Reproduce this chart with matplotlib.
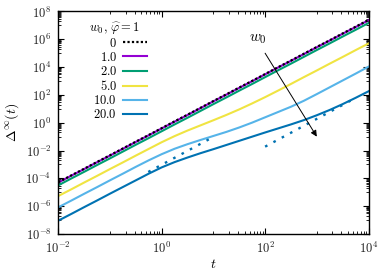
import numpy as np
import matplotlib
matplotlib.use("Agg")
import matplotlib.pyplot as plt
from matplotlib.ticker import FixedLocator, FuncFormatter, NullFormatter

plt.rcParams['mathtext.fontset'] = 'cm'
plt.rcParams['font.family'] = ['DejaVu Serif']

# ---- data (log10 values) ----
log_t = [-2, -1.75, -1.5, -1.25, -1, -0.75, -0.5, -0.25, 0, 0.25, 0.5, 0.75, 1,
         1.25, 1.5, 1.75, 2, 2.25, 2.5, 2.75, 3, 3.25, 3.5, 3.75, 4]
labels = ["0", "1.0", "2.0", "5.0", "10.0", "20.0"]
logD_w0 = [-4.28, -3.79, -3.31, -2.82, -2.34, -1.85, -1.36, -0.88, -0.39, 0.10, 0.58,
           1.07, 1.56, 2.04, 2.53, 3.01, 3.50, 3.99, 4.47, 4.96, 5.45, 5.93, 6.42,
           6.90, 7.39]
logD_w1 = [-4.30, -3.81, -3.33, -2.84, -2.36, -1.87, -1.38, -0.90, -0.41, 0.08, 0.56,
           1.05, 1.54, 2.02, 2.51, 2.99, 3.48, 3.97, 4.45, 4.94, 5.43, 5.91, 6.40,
           6.88, 7.37]
logD_w2 = [-4.50, -4.01, -3.53, -3.04, -2.56, -2.07, -1.58, -1.10, -0.61, -0.12, 0.36,
           0.85, 1.34, 1.82, 2.31, 2.79, 3.28, 3.77, 4.25, 4.74, 5.23, 5.71, 6.20,
           6.68, 7.17]
logD_w5 = [-5.27, -4.79, -4.30, -3.82, -3.33, -2.85, -2.36, -1.88, -1.40, -0.96, -0.56,
           -0.19, 0.18, 0.56, 0.96, 1.39, 1.84, 2.31, 2.79, 3.28, 3.76, 4.25, 4.73,
           5.22, 5.70]
logD_w10 = [-6.08, -5.60, -5.11, -4.63, -4.14, -3.66, -3.17, -2.70, -2.26, -1.87, -1.54,
            -1.24, -0.95, -0.66, -0.34, 0.01, 0.39, 0.77, 1.15, 1.58, 2.06, 2.55, 3.04,
            3.53, 4.03]
logD_w20 = [-7.04, -6.56, -6.07, -5.59, -5.10, -4.62, -4.14, -3.66, -3.21, -2.83, -2.50,
            -2.19, -1.90, -1.60, -1.30, -1.00, -0.70, -0.41, -0.12, 0.19, 0.54, 0.92,
            1.34, 1.79, 2.26]
# dotted asymptotes for w0 = 20
asym1_t = [0.55, 9.0]
asym1_logD = [-3.54, -1.11]
asym2_t = [100.0, 5000.0]
asym2_logD = [-1.72, 1.68]

colors = ["black", "#9400D3", "#009E73", "#F0E442", "#56B4E9", "#0072B2"]

t = 10.0 ** np.array(log_t)

fig = plt.figure(figsize=(3.9, 2.73), dpi=100)
ax = fig.add_axes([0.1495, 0.1429, 0.7954, 0.815])

series = [logD_w0, logD_w1, logD_w2, logD_w5, logD_w10, logD_w20]
handles = []
for i in range(1, 6):
    h, = ax.plot(t, 10.0 ** np.array(series[i]), color=colors[i], lw=1.5,
                 label="$" + labels[i] + "$", zorder=2)
    handles.append(h)
h0, = ax.plot(t, 10.0 ** np.array(series[0]), color="black", lw=1.6,
              ls=(0, (1, 1)), label="$" + labels[0] + "$", zorder=4)
handles.insert(0, h0)

ax.plot(asym1_t, 10.0 ** np.array(asym1_logD), color=colors[5], lw=1.7,
        ls=(0, (1.1, 2.9)), zorder=3)
ax.plot(asym2_t, 10.0 ** np.array(asym2_logD), color=colors[5], lw=1.7,
        ls=(0, (1.1, 2.9)), zorder=3)

ax.set_xscale("log")
ax.set_yscale("log")
ax.set_xlim(1e-2, 1e4)
ax.set_ylim(1e-8, 1e8)

xmaj = [10.0 ** e for e in range(-2, 5, 2)]
ymaj = [10.0 ** e for e in range(-8, 9, 2)]
xmin = [k * 10.0 ** (e + 1) for e in range(-2, 4, 2) for k in range(1, 10)]
ymin = [k * 10.0 ** (e + 1) for e in range(-8, 8, 2) for k in range(1, 10)]
ax.xaxis.set_major_locator(FixedLocator(xmaj))
ax.yaxis.set_major_locator(FixedLocator(ymaj))
ax.xaxis.set_minor_locator(FixedLocator(xmin))
ax.yaxis.set_minor_locator(FixedLocator(ymin))
fmt = FuncFormatter(lambda v, p: r"$10^{%d}$" % int(round(np.log10(v))))
ax.xaxis.set_major_formatter(fmt)
ax.yaxis.set_major_formatter(fmt)
ax.xaxis.set_minor_formatter(NullFormatter())
ax.yaxis.set_minor_formatter(NullFormatter())
ax.tick_params(which="both", direction="in", top=True, right=True,
               labelsize=9, colors="black", labelcolor="#222222")
ax.tick_params(which="major", length=4, width=0.8, pad=5)
ax.tick_params(which="minor", length=2, width=0.6)
for s in ax.spines.values():
    s.set_linewidth(1.0)

ax.set_xlabel(r"$t$", fontsize=10, labelpad=1)
ax.set_ylabel(r"$\Delta^{\infty}(t)$", fontsize=10, labelpad=3)

ax.annotate("", xy=(1e3, 1e-1), xytext=(1e2, 1e5),
            arrowprops=dict(arrowstyle="-|>", color="black", lw=0.7,
                            mutation_scale=9, shrinkA=0, shrinkB=0))
ax.text(72, 1e6, r"$w_0$", fontsize=11, ha="center", va="center")

ax.text(0.18, 0.922, r"$w_0,\,\widehat{\varphi}=1$", transform=ax.transAxes,
        fontsize=9, ha="center", va="center")
leg = ax.legend(handles=handles, loc="upper left", bbox_to_anchor=(0.085, 0.926),
                frameon=False, markerfirst=False, fontsize=9,
                handlelength=1.9, handletextpad=0.5, labelspacing=0.09,
                borderpad=0.2)

fig.savefig("out.png", dpi=100)
